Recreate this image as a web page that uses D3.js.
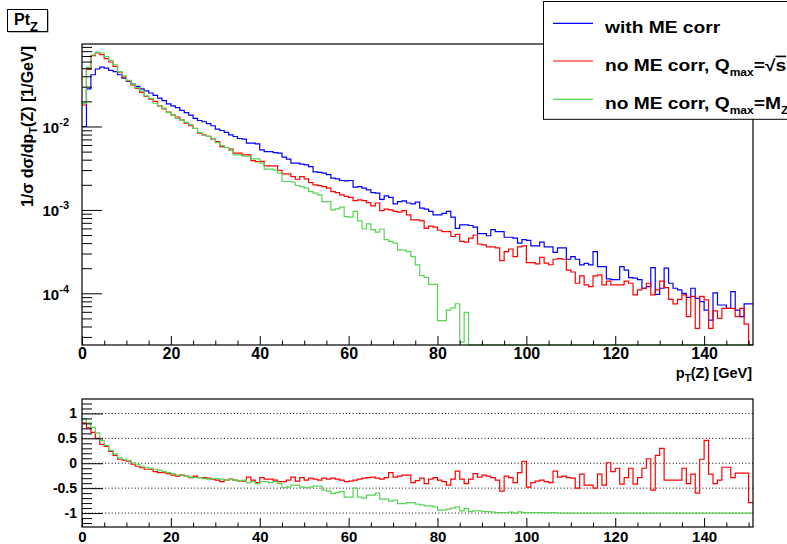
<!DOCTYPE html>
<html><head><meta charset="utf-8">
<script src="https://cdn.jsdelivr.net/npm/d3@7"></script>
<style>
body{margin:0;background:#fff}
svg{display:block}
text{font-family:"Liberation Sans",Arial,Helvetica,sans-serif;font-weight:bold;fill:#000}
</style>
</head><body>
<svg id="c" width="787" height="544"></svg>
<script>
// ---------------- data (1 GeV bins, 0..151 GeV) ----------------
const xRange = [0, 151];
const xMajorTicks = [0, 20, 40, 60, 80, 100, 120, 140];
const yMainTicks = [1e-4, 1e-3, 1e-2];
const yMainTickExp = ["-4", "-3", "-2"];
const ratioTicks = [-1, -0.5, 0, 0.5, 1];
const ratioTickLabels = ["-1", "-0.5", "0", "0.5", "1"];
const seriesNames = ["with ME corr", "no ME corr, Q", "no ME corr, Q"];

const blueVals = [
0.0100,0.0283,0.0417,0.0489,0.0516,0.0502,0.0470,0.0454,0.0417,0.0381,
0.0347,0.0323,0.0302,0.0283,0.0268,0.0252,0.0236,0.0219,0.0204,0.0187,
0.0177,0.0168,0.0156,0.0147,0.0137,0.0125,0.0118,0.0114,0.0108,0.0102,
0.0093,0.00895,0.00848,0.00795,0.00759,0.00718,0.00707,0.00632,0.00632,0.0062,
0.00525,0.0050,0.0050,0.00487,0.00479,0.00429,0.00406,0.00364,0.00364,0.00353,
0.00347,0.00331,0.00286,0.00281,0.00276,0.00265,0.0024,0.00236,0.00225,0.00223,
0.00225,0.00187,0.0019,0.00182,0.00174,0.00161,0.00159,0.00134,0.00147,0.00141,
0.00118,0.00126,0.00128,0.00121,0.00118,0.00124,0.00105,0.00102,0.00096,0.00087,
0.00087,0.00091,0.00096,0.00082,0.0006,0.00066,0.00066,0.00065,0.00062,0.00052,
0.00052,0.00049,0.00058,0.00055,0.00055,0.00047,0.00047,0.00046,0.0004,0.00044,
0.00043,0.00037,0.00037,0.00041,0.00036,0.00036,0.00031,0.00035,0.00035,0.000256,
0.000275,0.000256,0.000219,0.000229,0.000219,0.000316,0.000209,0.000209,0.000149,0.000146,
0.000146,0.000209,0.00019,0.000154,0.000152,0.000146,0.000115,0.00012,0.000203,0.0000973,
0.000115,0.0002,0.000132,0.000115,0.00011,0.0001,0.0000895,0.000115,0.000087,0.0000794,
0.000063,0.0000478,0.000101,0.0000724,0.0000724,0.000066,0.000105,0.000063,0.0000525,0.0000745,
0.0000745];

const redVals = [
0.0181,0.0484,0.0708,0.0760,0.0726,0.0650,0.0593,0.0525,0.0450,0.0390,
0.0351,0.0316,0.0286,0.0256,0.0229,0.0213,0.0200,0.0177,0.0163,0.0149,
0.0138,0.0130,0.0120,0.0110,0.0102,0.00946,0.0083,0.00795,0.0076,0.00707,
0.0066,0.00575,0.0056,0.00535,0.00479,0.00479,0.00457,0.00457,0.0039,0.0038,
0.00381,0.00338,0.00338,0.00338,0.00297,0.0027,0.0027,0.00251,0.00233,0.0025,
0.00235,0.00213,0.0020,0.00195,0.0019,0.00182,0.00166,0.00161,0.00151,0.00145,
0.00141,0.00129,0.00132,0.00129,0.00122,0.00112,0.00121,0.00098,0.00102,0.0010,
0.00096,0.00094,0.00098,0.00087,0.00076,0.00076,0.00074,0.0006,0.00064,0.00062,
0.00057,0.00055,0.00055,0.00048,0.00051,0.00042,0.00041,0.00046,0.0005,0.00039,
0.00038,0.00036,0.00036,0.00035,0.000247,0.000316,0.00034,0.000275,0.00036,0.00037,
0.000233,0.000233,0.000225,0.00027,0.00023,0.00022,0.000256,0.00026,0.000256,0.00019,
0.00018,0.000132,0.000162,0.000126,0.00012,0.000162,0.000166,0.000126,0.00014,0.000126,
0.000126,0.000126,0.00014,0.000132,0.0000955,0.00011,0.000115,0.000132,0.0000955,0.00011,
0.00014,0.000117,0.0000848,0.0000745,0.0000848,0.0000955,0.0000525,0.000092,0.000038,0.000092,
0.0000832,0.000038,0.0000614,0.00005,0.000066,0.000066,0.000066,0.0000525,0.000066,0.0000427,
0.000016];

const greenVals = [
0.0189,0.0512,0.072,0.078,0.076,0.069,0.0616,0.055,0.0456,0.0405,
0.0358,0.0322,0.0292,0.0268,0.0233,0.0217,0.0190,0.0177,0.0166,0.0147,
0.0138,0.0125,0.0120,0.0112,0.0105,0.0095,0.0085,0.00795,0.0076,0.00707,
0.0064,0.0059,0.0056,0.0052,0.00457,0.00457,0.0044,0.0044,0.0041,0.0041,
0.00364,0.00308,0.00308,0.0030,0.00276,0.00219,0.00219,0.00216,0.00196,0.0019,
0.00182,0.00166,0.00159,0.00151,0.00126,0.00126,0.0010,0.00103,0.00108,0.00083,
0.00082,0.00096,0.00074,0.00059,0.00068,0.00058,0.00054,0.00059,0.00044,0.00042,
0.0004,0.00033,0.00033,0.000316,0.000275,0.000219,0.000163,0.000155,0.000128,0.000128,
0.000047,0.000047,0.000063,0.000067,0.000075,0.000026,0.000059,0,0,0,
0,0,0,0,0,0,0,0,0,0,
0,0,0,0,0,0,0,0,0,0,
0,0,0,0,0,0,0,0,0,0,
0,0,0,0,0,0,0,0,0,0,
0,0,0,0,0,0,0,0,0,0,
0,0,0,0,0,0,0,0,0,0,
0];

const redRatio = [
0.81,0.71,0.62,0.50,0.38,0.34,0.24,0.16,0.08,0.06,
0.04,-0.02,-0.06,-0.09,-0.12,-0.12,-0.17,-0.19,-0.19,-0.21,
-0.24,-0.26,-0.24,-0.26,-0.29,-0.26,-0.29,-0.29,-0.30,-0.32,
-0.34,-0.37,-0.34,-0.32,-0.34,-0.36,-0.36,-0.28,-0.34,-0.39,
-0.29,-0.32,-0.32,-0.34,-0.37,-0.37,-0.34,-0.28,-0.36,-0.29,
-0.34,-0.30,-0.32,-0.34,-0.30,-0.32,-0.30,-0.32,-0.34,-0.37,
-0.36,-0.34,-0.32,-0.30,-0.29,-0.28,-0.30,-0.32,-0.29,-0.19,
-0.28,-0.26,-0.24,-0.24,-0.39,-0.35,-0.30,-0.41,-0.32,-0.29,
-0.34,-0.37,-0.44,-0.32,-0.16,-0.32,-0.41,-0.32,-0.21,-0.28,
-0.24,-0.26,-0.29,-0.34,-0.56,-0.26,-0.29,-0.39,-0.19,0.04,
-0.48,-0.39,-0.36,-0.34,-0.37,-0.39,-0.16,-0.28,-0.26,-0.29,
-0.30,-0.50,-0.22,-0.44,-0.44,-0.50,-0.22,-0.44,0.01,-0.17,
-0.10,-0.42,-0.29,-0.10,-0.42,-0.29,-0.10,0.09,-0.54,0.16,
0.30,-0.34,-0.34,-0.34,-0.34,-0.10,-0.41,-0.22,-0.60,0.08,
0.46,-0.22,-0.41,-0.34,-0.08,-0.08,-0.29,-0.20,-0.20,-0.20,
-0.79];

const greenRatio = [
0.89,0.81,0.72,0.61,0.46,0.36,0.26,0.19,0.11,0.08,
0.06,0.01,-0.02,-0.06,-0.08,-0.10,-0.12,-0.14,-0.17,-0.19,
-0.21,-0.24,-0.24,-0.26,-0.28,-0.29,-0.29,-0.31,-0.32,-0.31,
-0.31,-0.32,-0.34,-0.33,-0.34,-0.36,-0.34,-0.39,-0.37,-0.41,
-0.37,-0.37,-0.39,-0.37,-0.41,-0.49,-0.48,-0.44,-0.44,-0.48,
-0.49,-0.48,-0.46,-0.46,-0.54,-0.56,-0.61,-0.59,-0.57,-0.68,
-0.68,-0.50,-0.68,-0.70,-0.64,-0.64,-0.60,-0.72,-0.72,-0.76,
-0.74,-0.81,-0.81,-0.79,-0.79,-0.82,-0.835,-0.855,-0.855,-0.875,
-0.94,-0.94,-0.92,-0.90,-0.875,-0.955,-0.91,-0.97,-0.955,-0.955,
-0.97,-0.97,-0.98,-0.99,-0.99,-0.99,-0.98,-1.0,-0.975,-0.99,
-0.99,-0.99,-0.99,-0.99,-0.995,-0.99,-0.995,-1,-1,-1,
-1,-1,-1,-1,-1,-1,-1,-1,-1,-1,
-1,-1,-1,-1,-1,-1,-1,-1,-1,-1,
-1,-1,-1,-1,-1,-1,-1,-1,-1,-1,
-1,-1,-1,-1,-1,-1,-1,-1,-1,-1,
-1];

// ---------------- layout ----------------
const svg = d3.select("#c");
const L = 82, R = 753;
const mT = 44, mB = 345;
const rT = 399, rB = 527;
const yMin = 2.4e-5, yMax = 0.0975;
const BLUE = "#0000ff", RED = "#ff0000", GREEN = "#59d454";

const x = d3.scaleLinear().domain(xRange).range([L, R]);
const yMain = d3.scaleLog().domain([yMin, yMax]).range([mB, mT]).clamp(true);
const yRat = d3.scaleLinear().domain([-1.28, 1.29]).range([rB, rT]).clamp(true);

function steps(vals) {
  const pts = [];
  vals.forEach((v, i) => { pts.push([i, v]); pts.push([i + 1, v]); });
  return pts;
}
const lineMain = d3.line().x(d => x(d[0])).y(d => yMain(Math.max(d[1], yMin)));
const lineRat = d3.line().x(d => x(d[0])).y(d => yRat(d[1]));

// ---------------- main panel ----------------
const main = svg.append("g");
[[blueVals, BLUE], [redVals, RED], [greenVals, GREEN]].forEach(([v, c]) => {
  main.append("path").attr("d", lineMain(steps(v)))
    .attr("fill", "none").attr("stroke", c).attr("stroke-width", 1.2);
});

// x axis (main)
const gxm = main.append("g").attr("transform", `translate(0,${mB})`)
  .call(d3.axisBottom(x).tickValues(xMajorTicks).tickSize(-9).tickPadding(3).tickFormat(d3.format("d")));
gxm.select(".domain").remove();
gxm.selectAll("text").attr("font-size", 16).attr("font-family", null);
const xMinor = d3.range(5, 151, 5).filter(v => v % 20 !== 0);
const gxmm = main.append("g").attr("transform", `translate(0,${mB})`)
  .call(d3.axisBottom(x).tickValues(xMinor).tickSize(-4.5).tickFormat(""));
gxmm.select(".domain").remove();

// y axis (main, log)
const gym = main.append("g").attr("transform", `translate(${L},0)`)
  .call(d3.axisLeft(yMain).tickValues(yMainTicks).tickSize(-20).tickPadding(13).tickFormat(""));
gym.select(".domain").remove();
gym.selectAll(".tick text").each(function(d, i) {
  const t = d3.select(this).attr("dy", null).attr("y", 6).attr("font-family", null);
  t.append("tspan").attr("font-size", 15).text("10");
  t.append("tspan").attr("font-size", 11).attr("dy", -7).text(yMainTickExp[i]);
});
const yMinor = [];
[1e-5, 1e-4, 1e-3, 1e-2].forEach(dec => { for (let k = 2; k <= 9; k++) { const v = k * dec; if (v > yMin && v < yMax) yMinor.push(v); } });
const gymm = main.append("g").attr("transform", `translate(${L},0)`)
  .call(d3.axisLeft(yMain).tickValues(yMinor).tickSize(-10).tickFormat(""));
gymm.select(".domain").remove();

// main frame
main.append("rect").attr("x", L).attr("y", mT).attr("width", R - L).attr("height", mB - mT)
  .attr("fill", "none").attr("stroke", "#000").attr("stroke-width", 1.2);

// axis titles
const xt = main.append("text").attr("x", 752).attr("y", 378).attr("text-anchor", "end").attr("font-size", 14.5);
xt.append("tspan").text("p");
xt.append("tspan").attr("font-size", 10).attr("dy", 4).text("T");
xt.append("tspan").attr("dy", -4).text("(Z) [GeV]");

const yt = main.append("text").attr("transform", "translate(33,46) rotate(-90)").attr("text-anchor", "end").attr("font-size", 16);
yt.append("tspan").text("1/σ dσ/dp");
yt.append("tspan").attr("font-size", 11).attr("dy", 4).text("T");
yt.append("tspan").attr("dy", -4).text("(Z) [1/GeV]");

// ---------------- ratio panel ----------------
const rat = svg.append("g");
ratioTicks.forEach(v => {
  rat.append("line").attr("x1", L).attr("x2", R).attr("y1", yRat(v)).attr("y2", yRat(v))
    .attr("stroke", "#000").attr("stroke-width", 1).attr("stroke-dasharray", "1,2.3");
});
[[redRatio, RED], [greenRatio, GREEN]].forEach(([v, c]) => {
  rat.append("path").attr("d", lineRat(steps(v)))
    .attr("fill", "none").attr("stroke", c).attr("stroke-width", 1.2);
});
const gxr = rat.append("g").attr("transform", `translate(0,${rB})`)
  .call(d3.axisBottom(x).tickValues(xMajorTicks).tickSize(-9).tickPadding(4).tickFormat(d3.format("d")));
gxr.select(".domain").remove();
gxr.selectAll("text").attr("font-size", 15).attr("font-family", null);
const gxrm = rat.append("g").attr("transform", `translate(0,${rB})`)
  .call(d3.axisBottom(x).tickValues(xMinor).tickSize(-4.5).tickFormat(""));
gxrm.select(".domain").remove();

const gyr = rat.append("g").attr("transform", `translate(${L},0)`)
  .call(d3.axisLeft(yRat).tickValues(ratioTicks).tickSize(-21).tickPadding(5).tickFormat((d, i) => ratioTickLabels[i]));
gyr.select(".domain").remove();
gyr.selectAll("text").attr("font-size", 14).attr("font-family", null);
const rMinor = d3.range(-12, 13).map(k => k / 10).filter(v => Math.abs(v * 2 - Math.round(v * 2)) > 1e-6);
const gyrm = rat.append("g").attr("transform", `translate(${L},0)`)
  .call(d3.axisLeft(yRat).tickValues(rMinor).tickSize(-10).tickFormat(""));
gyrm.select(".domain").remove();
svg.selectAll(".tick line").attr("stroke", "#000");

rat.append("rect").attr("x", L).attr("y", rT).attr("width", R - L).attr("height", rB - rT)
  .attr("fill", "none").attr("stroke", "#000").attr("stroke-width", 1.2);

// ---------------- title box ----------------
svg.append("rect").attr("x", 8.5).attr("y", 10.5).attr("width", 40).attr("height", 22).attr("fill", "#777");
svg.append("rect").attr("x", 7.5).attr("y", 9.5).attr("width", 40).attr("height", 22)
  .attr("fill", "#fff").attr("stroke", "#000").attr("stroke-width", 1);
const tt = svg.append("text").attr("x", 14).attr("y", 25).attr("font-size", 16);
tt.append("tspan").text("Pt");
tt.append("tspan").attr("font-size", 13).attr("dy", 6).text("Z");

// ---------------- legend ----------------
const lg = svg.append("g");
lg.append("rect").attr("x", 543.5).attr("y", 1.5).attr("width", 260).attr("height", 117.8)
  .attr("fill", "#fff").attr("stroke", "#000").attr("stroke-width", 1);
const legY = [23.3, 61, 99.3];
const legC = [BLUE, RED, GREEN];
const tx = 605;
legY.forEach((yy, i) => {
  lg.append("line").attr("x1", 553).attr("x2", 593).attr("y1", yy).attr("y2", yy)
    .attr("stroke", legC[i]).attr("stroke-width", 1.2);
  const t = lg.append("text").attr("x", tx).attr("y", yy + 10).attr("font-size", 16)
    .attr("transform", `translate(${tx},0) scale(1.2,1) translate(${-tx},0)`);
  t.append("tspan").text(seriesNames[i]);
  if (i === 1) {
    t.append("tspan").attr("font-size", 10).attr("dy", 5).text("max");
    t.append("tspan").attr("dy", -5).text("=√");
    t.append("tspan").attr("text-decoration", "overline").text("s");
  } else if (i === 2) {
    t.append("tspan").attr("font-size", 10).attr("dy", 5).text("max");
    t.append("tspan").attr("dy", -5).text("=M");
    t.append("tspan").attr("font-size", 10).attr("dy", 5).text("Z");
  }
});
</script>
</body></html>
